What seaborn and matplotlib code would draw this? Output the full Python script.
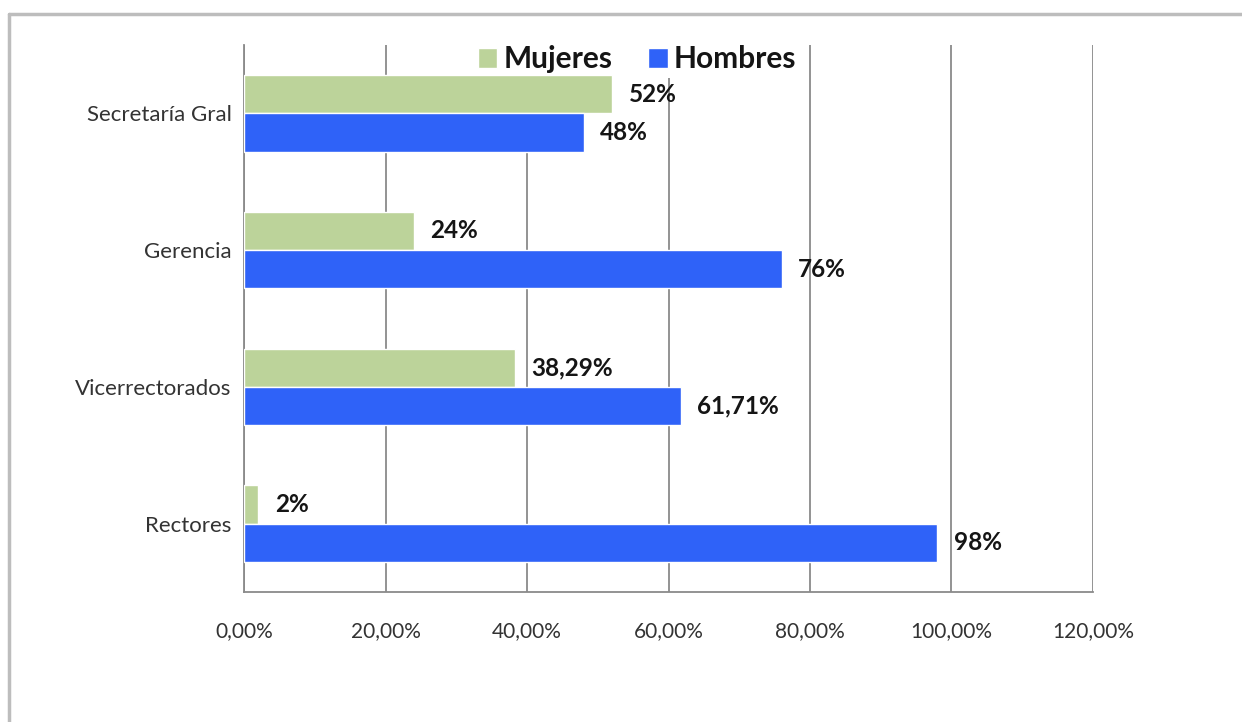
import pandas as pd
import matplotlib.pyplot as plt
from matplotlib.lines import Line2D
from matplotlib.ticker import FixedLocator, FuncFormatter
import seaborn as sns

# Data
categories = ['Secretaría Gral', 'Gerencia', 'Vicerrectorados', 'Rectores']
series = ['Mujeres', 'Hombres']
mujeres = [52, 24, 38.29, 2]
hombres = [48, 76, 61.71, 98]
mujeres_labels = ['52%', '24%', '38,29%', '2%']
hombres_labels = ['48%', '76%', '61,71%', '98%']
x_ticks = [0, 20, 40, 60, 80, 100, 120]

GREEN = '#BCD39A'
BLUE = '#2F62F8'

df = pd.DataFrame({
    'cargo': categories * 2,
    'sexo': ['Mujeres'] * len(categories) + ['Hombres'] * len(categories),
    'pct': mujeres + hombres,
})

sns.set_style('white')
plt.rcParams['font.family'] = ['Lato', 'DejaVu Sans']

fig = plt.figure(figsize=(12.42, 7.22), dpi=100)
ax = fig.add_axes([0.1965, 0.180, 0.6835, 0.7577])

sns.barplot(data=df, y='cargo', x='pct', hue='sexo', order=categories,
            hue_order=series, palette=[GREEN, BLUE], orient='h',
            width=0.56, saturation=1, ax=ax, legend=True, zorder=3)

# data labels
for cont, labs in zip(ax.containers, [mujeres_labels, hombres_labels]):
    ax.bar_label(cont, labels=labs, padding=12, fontsize=17.5,
                 fontweight='bold', color='#151515', zorder=4)

ax.set_xlim(0, 120)
ax.set_ylim(3.5, -0.5)
ax.xaxis.set_major_locator(FixedLocator(x_ticks))
ax.xaxis.set_major_formatter(FuncFormatter(lambda v, p: f'{v:.2f}%'.replace('.', ',')))
ax.grid(axis='x', color='#8a8a8a', linewidth=1.3, zorder=0)
ax.set_axisbelow(True)
ax.set_xlabel('')
ax.set_ylabel('')

for s in ['top', 'right']:
    ax.spines[s].set_visible(False)
for s in ['left', 'bottom']:
    ax.spines[s].set_color('#8a8a8a')
    ax.spines[s].set_linewidth(1.3)

ax.tick_params(axis='x', direction='out', length=6, width=1.2, color='#8a8a8a',
               labelsize=15, labelcolor='#333333', pad=15)
ax.tick_params(axis='y', which='major', length=0, labelsize=16,
               labelcolor='#333333', pad=9)
ax.yaxis.set_minor_locator(FixedLocator([-0.5, 0.5, 1.5, 2.5, 3.5]))
ax.tick_params(axis='y', which='minor', direction='out', length=5,
               width=1.2, color='#8a8a8a')

leg = ax.legend(loc='upper center', bbox_to_anchor=(0.463, 1.035), ncol=2,
                frameon=True, fancybox=False, edgecolor='none', framealpha=1,
                prop={'size': 21.5, 'weight': 'bold'}, handlelength=0.65,
                handleheight=0.65, handletextpad=0.2, columnspacing=1.2,
                borderpad=0.15)
leg.set_zorder(2.5)
for t in leg.get_texts():
    t.set_color('#151515')

# outer chart frame (top and left edges visible)
fig.add_artist(Line2D([9 / 1242, 1], [1 - 14 / 722, 1 - 14 / 722],
                      color='#bdbdbd', linewidth=2.5))
fig.add_artist(Line2D([9 / 1242, 9 / 1242], [0, 1 - 14 / 722],
                      color='#bdbdbd', linewidth=2.5))

fig.savefig('out.png', dpi=100, facecolor='white')
